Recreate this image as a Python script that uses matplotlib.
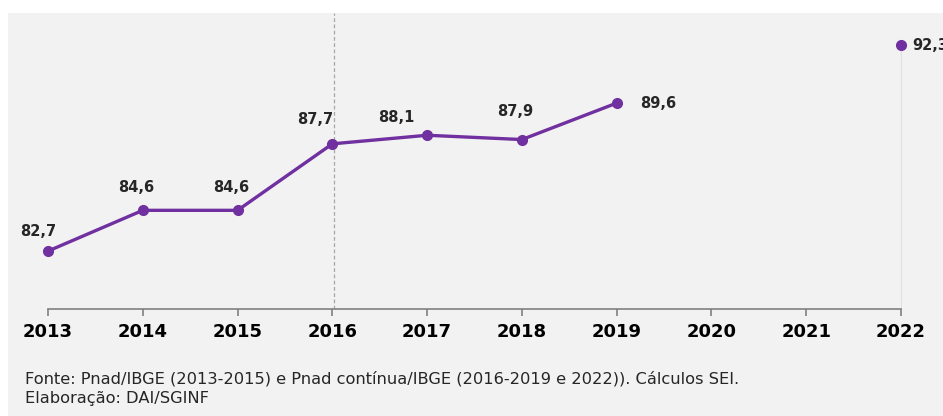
import matplotlib.pyplot as plt
import matplotlib.patches as mpatches
import numpy as np

years = [2013, 2014, 2015, 2016, 2017, 2018, 2019, 2020, 2021, 2022]
rate = [82.7, 84.6, 84.6, 87.7, 88.1, 87.9, 89.6, None, None, 92.3]
source_note = 'Fonte: Pnad/IBGE (2013-2015) e Pnad contínua/IBGE (2016-2019 e 2022)). Cálculos SEI.'
credit_note = 'Elaboração: DAI/SGINF'

purple = '#7030A0'
text_col = '#262626'

vals = np.array([np.nan if v is None else v for v in rate])
x = np.array(years)

fig = plt.figure(figsize=(9.43, 4.16), dpi=100)
fig.patch.set_facecolor('white')
# light grey card behind everything
fig.patches.append(mpatches.Rectangle((8 / 943, 0), 1, 403 / 416, transform=fig.transFigure,
                                      facecolor='#f2f2f2', edgecolor='none', zorder=-10))

ax = fig.add_axes([30 / 943, 107 / 416, 913 / 943, 296 / 416])
ax.set_facecolor('none')
ax.set_xlim(2012.81, 2022.443)
ax.set_ylim(80, 93.8)

# connected series up to 2019, 2022 stands alone
ax.plot(x[:7], vals[:7], color=purple, lw=2.4, marker='o', ms=7, zorder=3, clip_on=False)
ax.plot(x[9:], vals[9:], color=purple, lw=0, marker='o', ms=7, zorder=3, clip_on=False)
ax.plot([2022, 2022], [80, vals[9]], color='#e0e0e0', lw=0.8, zorder=1)

# series break marker
ax.axvline(2016.02, color='#a6a6a6', lw=0.9, ls=(0, (3, 2)), zorder=1)

offsets = [(-7, 8.5), (-4.6, 10.7), (-4.6, 10.7), (-12.4, 12.2), (-22.4, 7.4), (-5, 14.5),
           (17, 0), None, None, (8, 0)]
for xi, v, off in zip(years, rate, offsets):
    if v is None:
        continue
    side = xi in (2019, 2022)
    ax.annotate(f'{v:.1f}'.replace('.', ','), (xi, v), xytext=off, textcoords='offset points',
                ha='left' if side else 'center', va='center' if side else 'bottom',
                fontsize=10.5, fontweight='bold', color=text_col, annotation_clip=False)

for s in ['top', 'right', 'left']:
    ax.spines[s].set_visible(False)
ax.spines['bottom'].set_bounds(2013, 2022)
ax.spines['bottom'].set_color('#808080')
ax.spines['bottom'].set_linewidth(1.2)
ax.set_yticks([])
ax.set_xticks(years)
ax.set_xticklabels([str(y) for y in years], fontsize=13, fontweight='bold', color='black')
ax.tick_params(axis='x', length=5, width=1.2, color='#808080', pad=5)

fig.text(25 / 943, (416 - 379) / 416, source_note, fontsize=11.7, color=text_col, va='center')
fig.text(25 / 943, (416 - 398) / 416, credit_note, fontsize=11.7, color=text_col, va='center')

plt.savefig('out.png', dpi=100, facecolor=fig.get_facecolor())
plt.close()
